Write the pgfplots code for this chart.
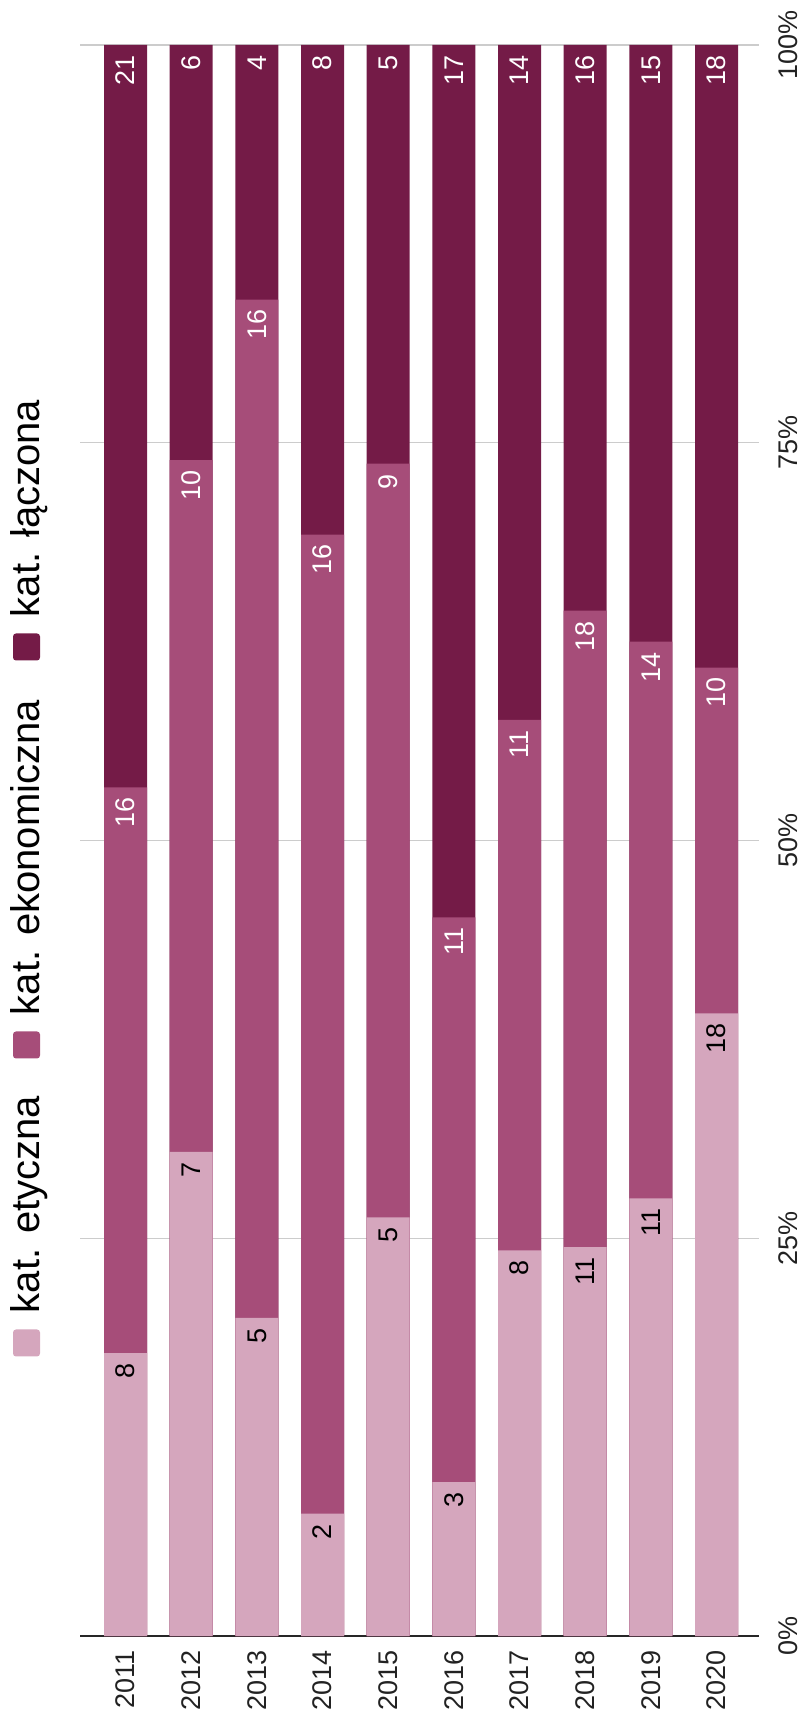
\documentclass[border=0pt]{standalone}
\usepackage{pgfplots}
\pgfplotsset{compat=1.18}
\usepackage{fontspec}
\setmainfont{Liberation Sans}
\definecolor{cEt}{HTML}{D5A6BD}
\definecolor{cEk}{HTML}{A64D79}
\definecolor{cLa}{HTML}{741B47}
\definecolor{cGrid}{HTML}{CCCCCC}
\definecolor{cTxt}{HTML}{222222}
\newcommand{\tickfont}{\fontsize{13.5}{13.5}\selectfont}
\newcommand{\barfont}{\fontsize{13.5}{13.5}\selectfont}
\newcommand{\legfont}{\fontsize{20}{20}\selectfont}
\begin{document}
\begin{tikzpicture}
\path[use as bounding box] (-40pt,-40pt) rectangle (362.5pt,818pt);
\begin{axis}[
  at={(0pt,0pt)}, anchor=south west,
  scale only axis, width=339.5pt, height=795.5pt,
  xmin=-0.693, xmax=9.647, ymin=0, ymax=100,
  ybar, bar width=21.5pt,
  axis line style={draw=none},
  tick style={draw=none},
  major tick length=0pt,
  /pgf/number format/assume math mode=true,
  xtick={0,1,2,3,4,5,6,7,8,9},
  xticklabels={2011,2012,2013,2014,2015,2016,2017,2018,2019,2020},
  xticklabel style={rotate=90, anchor=east, inner xsep=7pt, inner ysep=0pt, font=\tickfont, text=cTxt},
  ytick={0,25,50,75,100},
  yticklabels={0\%,25\%,50\%,75\%,100\%},
  yticklabel pos=right,
  yticklabel style={rotate=90, anchor=north, inner ysep=9.5pt, inner xsep=0pt, font=\tickfont, text=cTxt},
  ymajorgrids,
  grid style={color=cGrid, line width=0.7pt},
  extra y ticks={0},
  extra y tick labels={},
  extra y tick style={grid style={color=black!85, line width=0.9pt}},
  nodes near coords,
  point meta=explicit symbolic,
  every node near coord/.append style={rotate=90, anchor=east, inner xsep=5pt, inner ysep=0pt, font=\barfont},
]
% kat. łączona (cumulative top = 100%)
\addplot[fill=cLa, draw=none, bar shift=0pt, every node near coord/.append style={text=white}] coordinates {
  (0,100) [21] (1,100) [6] (2,100) [4] (3,100) [8] (4,100) [5]
  (5,100) [17] (6,100) [14] (7,100) [16] (8,100) [15] (9,100) [18]
};
% kat. ekonomiczna (cumulative: etyczna + ekonomiczna)
\addplot[fill=cEk, draw=none, bar shift=0pt, every node near coord/.append style={text=white}] coordinates {
  (0,53.333) [16] (1,73.913) [10] (2,84.000) [16] (3,69.231) [16] (4,73.684) [9]
  (5,45.161) [11] (6,57.576) [11] (7,64.444) [18] (8,62.500) [14] (9,60.870) [10]
};
% kat. etyczna
\addplot[fill=cEt, draw=none, bar shift=0pt, every node near coord/.append style={text=black}] coordinates {
  (0,17.778) [8] (1,30.435) [7] (2,20.000) [5] (3,7.692) [2] (4,26.316) [5]
  (5,9.677) [3] (6,24.242) [8] (7,24.444) [11] (8,27.500) [11] (9,39.130) [18]
};
\end{axis}
% legend (rotated, reading bottom to top)
\begin{scope}[shift={(-26.75pt,146.5pt)}, rotate=90, transform shape]
  \fill[cEt, rounded corners=1.5pt] (-6.75pt,-6.75pt) rectangle (6.75pt,6.75pt);
  \node[anchor=base west, inner sep=0pt, font=\legfont, text=black] at (14.75pt,-6.75pt) {kat. etyczna};
\end{scope}
\begin{scope}[shift={(-26.75pt,295.5pt)}, rotate=90, transform shape]
  \fill[cEk, rounded corners=1.5pt] (-6.75pt,-6.75pt) rectangle (6.75pt,6.75pt);
  \node[anchor=base west, inner sep=0pt, font=\legfont, text=black] at (14.75pt,-6.75pt) {kat. ekonomiczna};
\end{scope}
\begin{scope}[shift={(-26.75pt,494.5pt)}, rotate=90, transform shape]
  \fill[cLa, rounded corners=1.5pt] (-6.75pt,-6.75pt) rectangle (6.75pt,6.75pt);
  \node[anchor=base west, inner sep=0pt, font=\legfont, text=black] at (14.75pt,-6.75pt) {kat. łączona};
\end{scope}
\end{tikzpicture}
\end{document}
